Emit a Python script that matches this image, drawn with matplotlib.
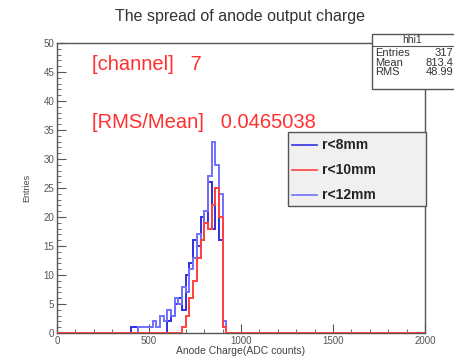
import numpy as np
import matplotlib
matplotlib.use("Agg")
import matplotlib.pyplot as plt
from matplotlib.ticker import MultipleLocator
from matplotlib.patches import Rectangle

plt.rcParams['font.family'] = ['Liberation Sans', 'DejaVu Sans']

# 20 ADC bins from 0 to 2000, counts given from 400 upward
bin_width = 20
first_bin = 400
r8_counts = [1, 1, 0, 0, 0, 0, 0, 0, 0, 0, 2, 3, 5, 6, 4, 10, 12, 16, 15, 20, 19, 26, 18, 25, 16, 1]
r10_counts = [0, 0, 0, 0, 0, 0, 0, 0, 0, 0, 0, 0, 0, 0, 1, 3, 6, 9, 13, 16, 19, 18, 22, 25, 20, 1]
r12_counts = [0, 0, 1, 1, 1, 1, 2, 1, 3, 2, 4, 3, 6, 5, 8, 7, 11, 13, 17, 16, 21, 27, 33, 29, 24, 2]
labels = ["r<8mm", "r<10mm", "r<12mm"]
colors = ["#3030e0", "#ff4040", "#7070ff"]

channel = 7
rms_over_mean = 0.0465038
stat_entries = "317"
stat_mean = "813.4"
stat_rms = "48.99"

W, H = 454, 357
edges = np.arange(0, 2000 + bin_width, bin_width)


def full(counts):
    arr = np.zeros(len(edges) - 1)
    i0 = first_bin // bin_width
    arr[i0:i0 + len(counts)] = counts
    return arr


def px(x, y):
    return x / W, 1 - y / H


fig = plt.figure(figsize=(W / 100, H / 100), dpi=100)
ax = fig.add_axes([57 / W, (H - 333) / H, (425 - 57) / W, (333 - 43) / H])

# red last so its zero baseline sits over the x axis
for counts, c, lab in zip([r8_counts, r12_counts, r10_counts],
                          [colors[0], colors[2], colors[1]],
                          [labels[0], labels[2], labels[1]]):
    ax.stairs(full(counts), edges, color=c, lw=1.4, label=lab, zorder=3)

ax.set_xlim(0, 2000)
ax.set_ylim(0, 50)
ax.xaxis.set_major_locator(MultipleLocator(500))
ax.xaxis.set_minor_locator(MultipleLocator(100))
ax.yaxis.set_major_locator(MultipleLocator(5))
ax.yaxis.set_minor_locator(MultipleLocator(1))
ax.tick_params(which='both', direction='in', labelsize=7, labelcolor='#555555',
               color='#555555', top=False, right=False)
ax.tick_params(which='major', length=6.5, width=0.8)
ax.tick_params(which='minor', length=3.2, width=0.6)
ax.tick_params(axis='x', pad=2)
ax.tick_params(axis='y', pad=2)
for s in ax.spines.values():
    s.set_color('#555555')
    s.set_linewidth(1.0)

ax.set_xlabel("Anode Charge(ADC counts)", fontsize=7.5, color='#444444', labelpad=0)
ax.set_ylabel("Entries", fontsize=6.5, color='#444444', labelpad=9)

fig.text(*px(240, 16), "The spread of anode output charge", fontsize=11.5,
         color='#333333', ha='center', va='center')

fig.text(*px(92, 65), f"[channel]   {channel}", fontsize=14.5, color='#ff3030',
         va='center', ha='left')
fig.text(*px(92, 122), f"[RMS/Mean]   {rms_over_mean}", fontsize=14.5, color='#ff3030',
         va='center', ha='left')

# legend box
fig.patches.append(Rectangle(px(288, 206), 138 / W, 74 / H, transform=fig.transFigure,
                             facecolor='#f0f0f0', edgecolor='#555555', lw=1.0, zorder=5))
for i, (lab, c) in enumerate(zip(labels, colors)):
    y = 145 + i * 25
    fig.lines.append(plt.Line2D([292 / W, 317 / W], [1 - y / H, 1 - y / H],
                                transform=fig.transFigure, color=c, lw=1.2, zorder=6))
    fig.text(*px(322, y), lab, fontsize=10, fontweight='bold', color='#222222',
             va='center', ha='left', zorder=6)

# stat box
fig.patches.append(Rectangle(px(372, 89), 100 / W, 55 / H, transform=fig.transFigure,
                             facecolor='white', edgecolor='#555555', lw=1.0, zorder=5))
fig.lines.append(plt.Line2D([372 / W, 472 / W], [1 - 46 / H, 1 - 46 / H],
                            transform=fig.transFigure, color='#555555', lw=0.8, zorder=6))
fig.text(*px(412, 40), "hhi1", fontsize=7.5, color='#333333', ha='center', va='center', zorder=6)
for i, (k, v) in enumerate([("Entries", stat_entries), ("Mean", stat_mean), ("RMS", stat_rms)]):
    y = 53 + i * 9.5
    fig.text(*px(375, y), k, fontsize=8, color='#333333', ha='left', va='center', zorder=6)
    fig.text(*px(453, y), v, fontsize=8, color='#333333', ha='right', va='center', zorder=6)

fig.savefig("out.png", dpi=100)
